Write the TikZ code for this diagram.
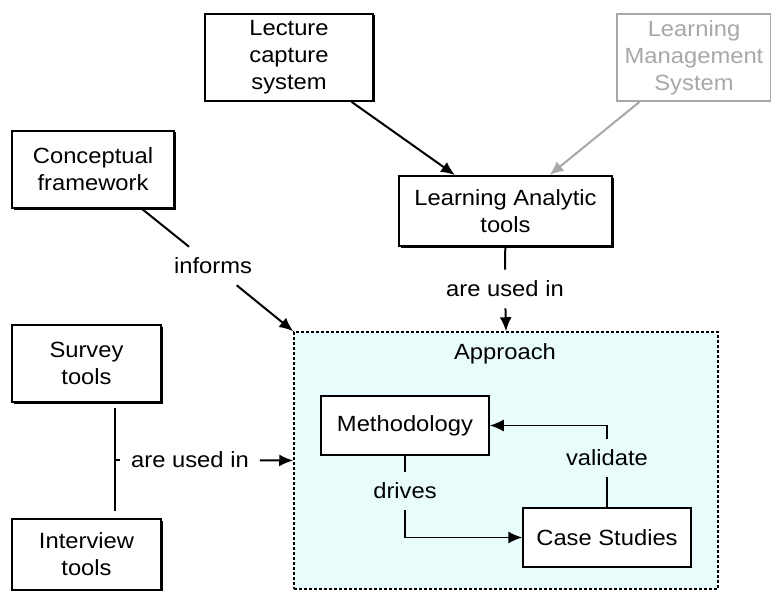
\documentclass[tikz,border=0pt]{standalone}
\usepackage{fontspec}
\setmainfont{Liberation Sans}[FakeStretch=1.08]
\usepackage{tikz}
\usepackage{xcolor}
\usetikzlibrary{arrows.meta,shadows}
\definecolor{apfill}{HTML}{E8FCFC}
\definecolor{lmsgray}{HTML}{A8A8A8}

\begin{document}
\begin{tikzpicture}[x=1pt,y=-1pt,
    box/.style={draw,fill=white,line width=1.8pt,align=center,inner sep=2pt,
        drop shadow={shadow xshift=1.5pt,shadow yshift=-1.5pt,fill=black,opacity=1}},
    inbox/.style={draw,fill=white,line width=1.5pt,align=center,
        minimum width=168pt,minimum height=59pt},
    lbl/.style={inner sep=11pt},
    link/.style={line width=2pt},
    arr/.style={line width=2pt,-{Latex[length=14pt,width=12pt]}},
    font=\fontsize{22}{27}\selectfont]
    \useasboundingbox (0,0) rectangle (771,591);

    % approach frame
    \node[draw,densely dashed,line width=1.5pt,fill=apfill,minimum width=424pt,
        minimum height=257pt] (approach) at (506,460.5) {};
    \node (aplbl) at (505,354) {Approach};

    % top row
    \node[box,minimum width=168pt,minimum height=87pt] (lecture) at (289,57.5)
        {Lecture\\capture\\system};
    \node[box,draw=lmsgray,text=lmsgray,drop shadow={shadow xshift=1.5pt,
        shadow yshift=-1.5pt,fill=lmsgray,opacity=1},
        minimum width=154pt,minimum height=87pt] (lms) at (694,57.5)
        {Learning\\Management\\System};
    \node[box,minimum width=213pt,minimum height=70pt] (latools) at (505.5,211)
        {Learning Analytic\\tools};
    \draw[arr] (lecture) -- (latools);
    \draw[arr,draw=lmsgray] (lms) -- (latools);

    % conceptual framework
    \node[box,minimum width=162pt,minimum height=77pt] (concept) at (93,169.5)
        {Conceptual\\framework};
    \node[lbl] (informs) at (213,266) {informs};
    \draw[link] (concept) -- (informs);
    \draw[arr] (informs) -- (approach.north west);

    % tools into approach
    \node[lbl] (usedtop) at (505,289) {are used in};
    \draw[link] (latools) -- (usedtop);
    \draw[arr] (usedtop) -- (approach.north);

    % survey and interview
    \node[box,minimum width=149pt,minimum height=77pt] (survey) at (86.5,363.5)
        {Survey\\tools};
    \node[box,minimum width=149pt,minimum height=71pt] (interview) at (86.5,554.5)
        {Interview\\tools};
    \coordinate (join) at (115,460);
    \draw[link] ([yshift=-5pt]survey.south -| join) -- ([yshift=7pt]interview.north -| join);
    \node[lbl] (usedleft) at (190,460) {are used in};
    \draw[link] (join) -- (usedleft);
    \draw[arr] (usedleft) -- (approach.west);

    % inside approach
    \node[inbox] (method) at (405,425.5) {Methodology};
    \node[inbox] (case) at (607,537.5) {Case Studies};
    \node[lbl] (drives) at (405,491) {drives};
    \node[lbl] (validate) at (607,458) {validate};
    \draw[link,line width=1.5pt] (method) -- (drives);
    \draw[arr,line width=1.5pt] (drives) |- (case);
    \draw[link,line width=1.5pt] (case) -- (validate);
    \draw[arr,line width=1.5pt] (validate) |- (method);
\end{tikzpicture}
\end{document}
